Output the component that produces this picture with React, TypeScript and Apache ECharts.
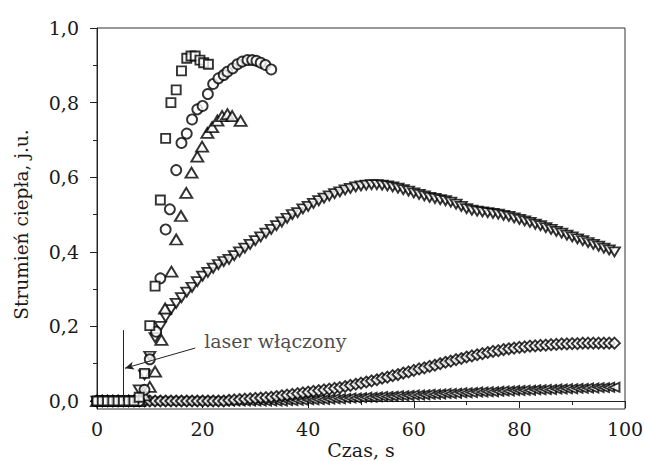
import React, { useEffect, useRef } from "react";
import * as echarts from "echarts";

// ---- data ----
const tSquare = [0, 1, 2, 3, 4, 5, 6, 7, 8, 9, 10, 11, 12, 13, 14, 15, 16, 17, 17.8, 18.6, 19.5, 20.2, 21.1];
const vSquare = [0, 0, 0, 0, 0, 0, 0, 0, 0.01, 0.074, 0.202, 0.308, 0.539, 0.704, 0.8, 0.834, 0.885, 0.919, 0.925, 0.925, 0.914, 0.907, 0.903];

const tCircle = [0, 1, 2, 3, 4, 5, 6, 7, 8, 9, 10, 11.2, 12, 13, 13.8, 15, 16, 17, 18, 19, 20, 21, 22, 23, 24, 24.7, 25.7, 26.6, 27.5, 28.5, 29.4, 30.2, 31, 31.9, 33];
const vCircle = [0, 0, 0, 0, 0, 0, 0, 0, 0, 0.03, 0.112, 0.186, 0.329, 0.46, 0.514, 0.619, 0.692, 0.717, 0.755, 0.782, 0.791, 0.823, 0.85, 0.865, 0.874, 0.883, 0.892, 0.903, 0.91, 0.914, 0.914, 0.912, 0.907, 0.901, 0.889];

const tUp = [0, 1, 2, 3, 4, 5, 6, 7, 8, 9, 10, 11, 12.2, 12.9, 14.1, 15, 15.9, 16.9, 17.9, 19, 19.9, 20.9, 21.8, 22.8, 23.7, 24.7, 25.6, 27.2];
const vUp = [0, 0, 0, 0, 0, 0, 0, 0, 0, 0.015, 0.038, 0.079, 0.164, 0.248, 0.347, 0.433, 0.496, 0.558, 0.612, 0.655, 0.682, 0.719, 0.734, 0.752, 0.764, 0.769, 0.764, 0.751];

const tDense = [
  0, 1, 2, 3, 4, 5, 6, 7, 8, 9, 10, 11, 12, 13, 14, 15, 16, 17, 18, 19,
  20, 21, 22, 23, 24, 25, 26, 27, 28, 29, 30, 31, 32, 33, 34, 35, 36, 37, 38, 39,
  40, 41, 42, 43, 44, 45, 46, 47, 48, 49, 50, 51, 52, 53, 54, 55, 56, 57, 58, 59,
  60, 61, 62, 63, 64, 65, 66, 67, 68, 69, 70, 71, 72, 73, 74, 75, 76, 77, 78, 79,
  80, 81, 82, 83, 84, 85, 86, 87, 88, 89, 90, 91, 92, 93, 94, 95, 96, 97, 98,
];

const vDown = [
  0, 0, 0, 0, 0, 0, 0, 0, 0.03, 0.07, 0.12, 0.17, 0.2, 0.225, 0.245, 0.262, 0.277, 0.292, 0.305, 0.32,
  0.335, 0.345, 0.356, 0.366, 0.374, 0.38, 0.39, 0.4, 0.41, 0.42, 0.43, 0.44, 0.45, 0.46, 0.47, 0.48, 0.49, 0.5, 0.505, 0.515,
  0.522, 0.53, 0.537, 0.544, 0.55, 0.556, 0.561, 0.566, 0.57, 0.574, 0.577, 0.579, 0.58, 0.58, 0.579, 0.577, 0.574, 0.571, 0.567, 0.563,
  0.558, 0.554, 0.55, 0.546, 0.543, 0.54, 0.537, 0.533, 0.528, 0.522, 0.516, 0.512, 0.509, 0.507, 0.505, 0.503, 0.501, 0.498, 0.495, 0.491,
  0.487, 0.483, 0.479, 0.474, 0.47, 0.465, 0.46, 0.455, 0.45, 0.445, 0.44, 0.435, 0.43, 0.425, 0.42, 0.415, 0.41, 0.405, 0.4,
];

const vDiamond = [
  0, 0, 0, 0, 0, 0, 0, 0, 0, 0, 0, 0, 0, 0, 0, 0, 0, 0, 0, 0,
  0, 0, 0, 0, 0, 0.002, 0.003, 0.004, 0.005, 0.006, 0.007, 0.008, 0.009, 0.01, 0.012, 0.014, 0.016, 0.018, 0.02, 0.022,
  0.024, 0.026, 0.028, 0.03, 0.032, 0.034, 0.036, 0.039, 0.042, 0.045, 0.048, 0.051, 0.054, 0.057, 0.061, 0.064, 0.068, 0.071, 0.075, 0.078,
  0.082, 0.086, 0.089, 0.093, 0.096, 0.1, 0.104, 0.107, 0.111, 0.114, 0.118, 0.121, 0.124, 0.127, 0.13, 0.133, 0.135, 0.138, 0.14, 0.142,
  0.144, 0.145, 0.147, 0.148, 0.149, 0.15, 0.151, 0.152, 0.153, 0.153, 0.154, 0.154, 0.155, 0.155, 0.155, 0.155, 0.155, 0.155, 0.155,
];

const vLeft = [
  0, 0, 0, 0, 0, 0, 0, 0, 0, 0, 0, 0, 0, 0, 0, 0, 0, 0, 0, 0,
  0, 0, 0, 0, 0, 0, 0, 0, 0, 0, 0, 0, 0, 0, 0, 0, 0.001, 0.001, 0.002, 0.002,
  0.003, 0.003, 0.004, 0.004, 0.005, 0.006, 0.006, 0.007, 0.008, 0.008, 0.009, 0.01, 0.01, 0.011, 0.012, 0.012, 0.013, 0.014, 0.014, 0.015,
  0.016, 0.016, 0.017, 0.018, 0.018, 0.019, 0.02, 0.02, 0.021, 0.022, 0.022, 0.023, 0.024, 0.024, 0.025, 0.025, 0.026, 0.027, 0.027, 0.028,
  0.028, 0.029, 0.029, 0.03, 0.03, 0.031, 0.031, 0.032, 0.032, 0.033, 0.033, 0.034, 0.034, 0.035, 0.035, 0.036, 0.036, 0.037, 0.037,
];

const yMajorTicks = [0, 0.2, 0.4, 0.6, 0.8, 1.0];
const yMinorTicks = [0.1, 0.3, 0.5, 0.7, 0.9];

// annotation: vertical marker line, arrow and label
const laserLine = [[5, 0.19], [5, 0]];
const laserArrow = [[18.6, 0.142], [5.3, 0.088]];
const laserLabelPos = [20.3, 0.161];
const laserLabel = "laser włączony";

const xTitle = "Czas, s";
const yTitle = "Strumień ciepła, j.u.";

const FONT = "DejaVu Serif";
const INK = "#1a1a1a";

function zip(t: number[], v: number[]) {
  return t.map((x, i) => [x, v[i]]);
}

export default function App() {
  const ref = useRef<HTMLDivElement>(null);
  useEffect(() => {
    if (!ref.current) return;
    const chart = echarts.init(ref.current, undefined, { renderer: "svg" });
    const markerStyle = { color: "#ffffff", borderColor: "#000000", borderWidth: 1.9 };
    const base = {
      type: "scatter" as const,
      clip: false,
      silent: true,
      itemStyle: markerStyle,
      symbolSize: 10,
    };
    chart.setOption({
      animation: false,
      textStyle: { fontFamily: FONT, color: INK },
      grid: {
        left: 97,
        top: 28,
        right: 20,
        bottom: 52,
        containLabel: false,
        outerBoundsMode: "none",
        show: true,
        borderColor: "#333",
        borderWidth: 1,
        backgroundColor: "transparent",
      },
      xAxis: [
        {
          type: "value",
          min: 0,
          max: 100,
          interval: 20,
          name: xTitle,
          nameLocation: "middle",
          nameGap: 31,
          nameMoveOverlap: false,
          nameTextStyle: { fontFamily: FONT, fontSize: 19, lineHeight: 20, color: INK },
          axisLine: { show: true, lineStyle: { color: "#222", width: 1 } },
          axisTick: { show: true, inside: false, length: 7, lineStyle: { color: "#222" } },
          minorTick: { show: true, splitNumber: 2, length: 4, lineStyle: { color: "#222" } },
          axisLabel: { fontFamily: FONT, fontSize: 19, color: INK, margin: 10 },
          splitLine: { show: false },
          minorSplitLine: { show: false },
        },
      ],
      yAxis: [
        {
          type: "value",
          position: "left",
          min: -0.0214,
          max: 1.0,
          name: yTitle,
          nameLocation: "middle",
          nameGap: 66,
          nameRotate: 90,
          nameMoveOverlap: false,
          nameTextStyle: { fontFamily: FONT, fontSize: 18.5, color: INK, padding: [0, 12, 0, 0] },
          axisLine: { show: true, lineStyle: { color: "#222", width: 1 } },
          axisTick: { show: true, inside: false, length: 7, customValues: yMajorTicks, lineStyle: { color: "#222" } },
          axisLabel: {
            fontFamily: FONT,
            fontSize: 19,
            color: INK,
            margin: 18,
            customValues: yMajorTicks,
            formatter: (v: number) => v.toFixed(1).replace(".", ","),
          },
          splitLine: { show: false },
        },
        {
          type: "value",
          position: "left",
          offset: 0,
          min: -0.0214,
          max: 1.0,
          axisLine: { show: false },
          axisTick: { show: true, inside: false, length: 4, customValues: yMinorTicks, lineStyle: { color: "#222" } },
          axisLabel: { show: false },
          splitLine: { show: false },
        },
      ],
      series: [
        { ...base, name: "left", data: zip(tDense, vLeft), symbol: "triangle", symbolRotate: 90, symbolSize: [9, 10] },
        { ...base, name: "diamond", data: zip(tDense, vDiamond), symbol: "diamond", symbolSize: [11, 11] },
        { ...base, name: "down", data: zip(tDense, vDown), symbol: "triangle", symbolRotate: 180, symbolSize: [11, 9] },
        { ...base, name: "up", data: zip(tUp, vUp), symbol: "triangle", symbolSize: [12, 10] },
        { ...base, name: "circle", data: zip(tCircle, vCircle), symbol: "circle", symbolSize: 10 },
        { ...base, name: "square", data: zip(tSquare, vSquare), symbol: "rect", symbolSize: 9 },
        {
          type: "scatter",
          name: "annotation",
          silent: true,
          clip: false,
          data: [laserLabelPos],
          symbolSize: 0,
          label: {
            show: true,
            position: "right",
            distance: 0,
            formatter: laserLabel,
            fontFamily: FONT,
            fontSize: 19,
            color: INK,
          },
          markLine: {
            silent: true,
            animation: false,
            label: { show: false },
            lineStyle: { color: "#222", width: 1, type: "solid" },
            emphasis: { disabled: true },
            data: [
              [
                { coord: laserLine[0], symbol: "none" },
                { coord: laserLine[1], symbol: "none" },
              ],
              [
                { coord: laserArrow[0], symbol: "none" },
                { coord: laserArrow[1], symbol: "arrow", symbolSize: [6, 9] },
              ],
            ],
          },
        },
      ],
    });
    return () => chart.dispose();
  }, []);
  return (
    <div
      ref={ref}
      style={{ position: "fixed", left: 0, top: 0, width: 645, height: 461, background: "#fff" }}
    />
  );
}
